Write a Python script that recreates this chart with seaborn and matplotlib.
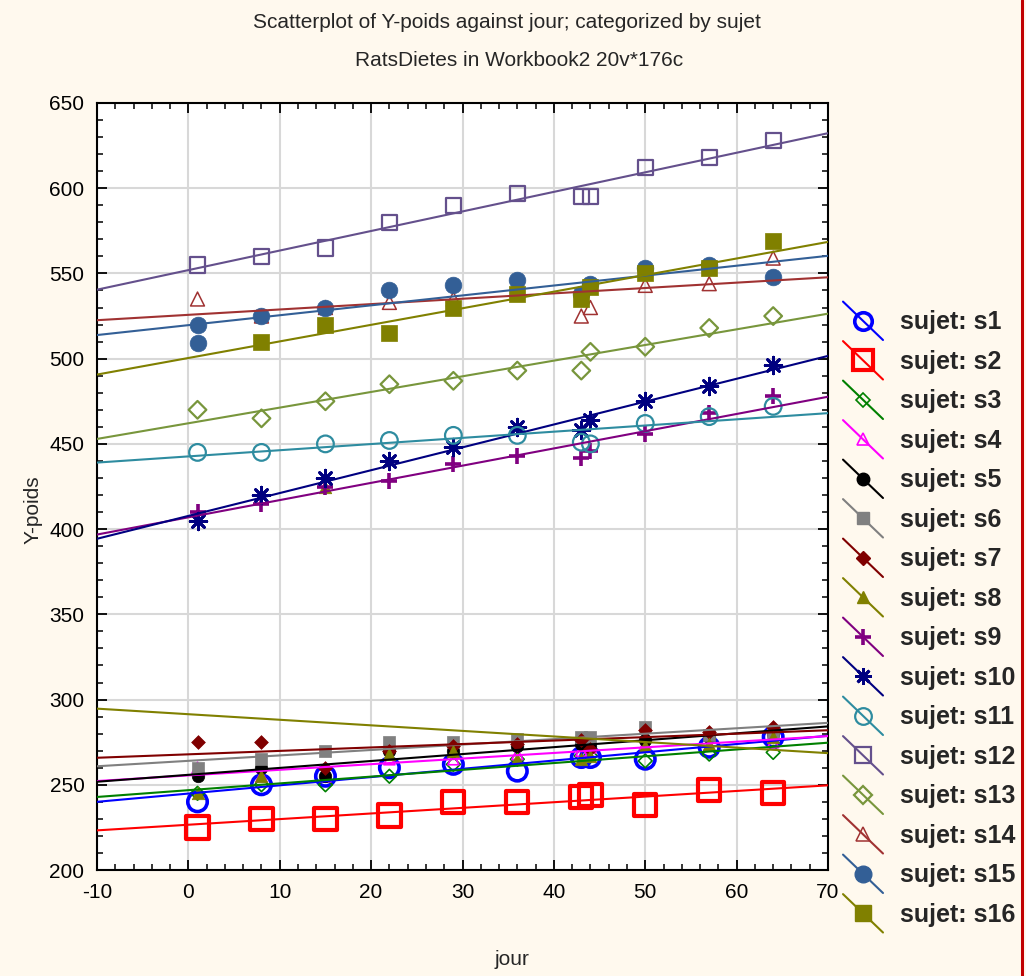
import numpy as np
import pandas as pd
import matplotlib
matplotlib.use("Agg")
import matplotlib.pyplot as plt
import seaborn as sns
from matplotlib.lines import Line2D
from matplotlib.legend_handler import HandlerLine2D
from matplotlib.ticker import MultipleLocator

# ---------------- data ----------------
jour = [1, 8, 15, 22, 29, 36, 43, 44, 50, 57, 64]
jour_s15 = [1, 1, 8, 15, 22, 29, 36, 43, 44, 50, 57, 64]
jour_s16 = [8, 15, 22, 29, 36, 43, 44, 50, 57, 64]

poids_s1 = [240, 250, 255, 260, 262, 258, 266, 266, 265, 272, 278]
poids_s2 = [225, 230, 230, 232, 240, 240, 243, 244, 238, 247, 245]
poids_s3 = [245, 250, 250, 255, 262, 265, 267, 267, 264, 268, 269]
poids_s4 = [260, 255, 255, 265, 265, 268, 270, 272, 274, 273, 275]
poids_s5 = [255, 260, 255, 270, 270, 273, 274, 273, 276, 278, 280]
poids_s6 = [260, 265, 270, 275, 275, 277, 278, 278, 284, 279, 281]
poids_s7 = [275, 275, 260, 270, 273, 274, 276, 271, 282, 281, 284]
poids_s8 = [245, 255, 425, 268, 270, 265, 265, 267, 273, 274, 278]
poids_s9 = [410, 415, 425, 428, 438, 443, 442, 446, 456, 468, 478]
poids_s10 = [405, 420, 430, 440, 448, 460, 458, 464, 475, 484, 496]
poids_s11 = [445, 445, 450, 452, 455, 455, 451, 450, 462, 466, 472]
poids_s12 = [555, 560, 565, 580, 590, 597, 595, 595, 612, 618, 628]
poids_s13 = [470, 465, 475, 485, 487, 493, 493, 504, 507, 518, 525]
poids_s14 = [535, 525, 530, 533, 535, 540, 525, 530, 543, 544, 559]
poids_s15 = [520, 509, 525, 530, 540, 543, 546, 538, 544, 553, 555, 548]
poids_s16 = [510, 520, 515, 530, 538, 535, 542, 550, 553, 569]

sujets = [f"s{i}" for i in range(1, 17)]

series = {
    "s1": (jour, poids_s1), "s2": (jour, poids_s2), "s3": (jour, poids_s3),
    "s4": (jour, poids_s4), "s5": (jour, poids_s5), "s6": (jour, poids_s6),
    "s7": (jour, poids_s7), "s8": (jour, poids_s8), "s9": (jour, poids_s9),
    "s10": (jour, poids_s10), "s11": (jour, poids_s11), "s12": (jour, poids_s12),
    "s13": (jour, poids_s13), "s14": (jour, poids_s14), "s15": (jour_s15, poids_s15),
    "s16": (jour_s16, poids_s16),
}
rows = []
for s in sujets:
    xs, ys = series[s]
    for x, y in zip(xs, ys):
        rows.append({"jour": x, "Y-poids": y, "sujet": s})
df = pd.DataFrame(rows)

# ---------------- styles ----------------
# (color, marker, size(pt), filled, edge width)
ASTER = (8, 2, 0)
styles = {
    "s1": ("#0000ff", "o", 14, False, 2.6),
    "s2": ("#ff0000", "s", 16, False, 3.0),
    "s3": ("#008000", "D", 7, False, 1.2),
    "s4": ("#ff00ff", "^", 8, False, 1.2),
    "s5": ("#000000", "o", 9, True, 1.0),
    "s6": ("#808080", "s", 9, True, 1.0),
    "s7": ("#800000", "D", 7, True, 1.0),
    "s8": ("#808000", "^", 9, True, 1.0),
    "s9": ("#800080", "+", 12, True, 2.6),
    "s10": ("#000080", ASTER, 12, True, 2.0),
    "s11": ("#2e8ca0", "o", 12, False, 1.6),
    "s12": ("#64508c", "s", 11, False, 1.6),
    "s13": ("#78963c", "D", 9, False, 1.6),
    "s14": ("#a03232", "^", 10, False, 1.1),
    "s15": ("#335f96", "o", 12, True, 1.0),
    "s16": ("#808000", "s", 11, True, 1.0),
}

sns.set_theme(style="white")
plt.rcParams["font.family"] = ["Liberation Sans", "DejaVu Sans"]
plt.rcParams["axes.unicode_minus"] = False

W, H = 1026, 976
fig = plt.figure(figsize=(W / 100, H / 100), dpi=100)
fig.patch.set_facecolor("#fff9ee")
ax = fig.add_axes([97 / W, 1 - 870 / H, (828 - 97) / W, (870 - 103) / H])
ax.set_facecolor("white")
ax.set_xlim(-10, 70)
ax.set_ylim(200, 650)

handles = []
for s in sujets:
    c, m, ms, filled, mew = styles[s]
    sub = df[df["sujet"] == s]
    skw = dict(s=ms ** 2, alpha=1, zorder=2)
    if filled:
        skw.update(edgecolors=c, facecolors=c,
                   linewidths=mew if m in ["+", ASTER] else 0.5)
    else:
        skw.update(edgecolors=c, facecolors="none", linewidths=mew)
    sns.regplot(data=sub, x="jour", y="Y-poids", ax=ax, ci=None, truncate=False,
                marker=m, color=c, scatter_kws=skw, line_kws=dict(lw=1.5, zorder=3))
    h = Line2D([], [], color=c, marker=m, ms=ms * 0.9 if ms > 12 else ms,
               mfc=c if filled else "none", mec=c, mew=mew, lw=1.5)
    handles.append(h)

ax.set_xlim(-10, 70)
ax.set_ylim(200, 650)
ax.xaxis.set_major_locator(MultipleLocator(10))
ax.xaxis.set_minor_locator(MultipleLocator(2))
ax.yaxis.set_major_locator(MultipleLocator(50))
ax.yaxis.set_minor_locator(MultipleLocator(10))
ax.grid(True, which="major", color="#d8d8d8", lw=1.5)
ax.set_axisbelow(True)
ax.tick_params(which="both", direction="in", top=True, right=True, bottom=True, left=True,
               colors="black", labelsize=15)
ax.tick_params(axis="x", which="major", pad=9)
ax.tick_params(axis="y", which="major", pad=9)
ax.tick_params(which="major", length=7, width=1.3)
ax.tick_params(which="minor", length=4, width=1.1)
for sp in ax.spines.values():
    sp.set_color("black")
    sp.set_linewidth(1.5)

ax.set_xlabel("jour", fontsize=15)
ax.set_ylabel("Y-poids", fontsize=15)
ax.xaxis.set_label_coords((512 - 97) / 731, (870 - 950) / 767)
ax.yaxis.set_label_coords((43 - 97) / 731, (870 - 510) / 767)

fig.text(507 / W, 1 - 22 / H, "Scatterplot of Y-poids against jour; categorized by sujet",
         ha="center", va="center", fontsize=15)
fig.text(519 / W, 1 - 60 / H, "RatsDietes in Workbook2 20v*176c",
         ha="center", va="center", fontsize=15)


class DiagHandler(HandlerLine2D):
    def create_artists(self, legend, orig_handle, xdescent, ydescent, width, height,
                       fontsize, trans):
        x0, x1 = -xdescent, width - xdescent
        yc = height / 2 - ydescent
        dy = 0.48 * width
        ln = Line2D([x0, x1], [yc + dy, yc - dy], color=orig_handle.get_color(), lw=1.5)
        mk = Line2D([(x0 + x1) / 2], [yc], ls="none", marker=orig_handle.get_marker(),
                    ms=orig_handle.get_markersize(), mfc=orig_handle.get_markerfacecolor(),
                    mec=orig_handle.get_markeredgecolor(), mew=orig_handle.get_markeredgewidth())
        ln.set_transform(trans)
        mk.set_transform(trans)
        return [ln, mk]


leg = fig.legend(handles, [f"sujet: {s}" for s in sujets],
                 loc="upper left", bbox_to_anchor=(843 / W, 1 - 308 / H),
                 frameon=False, borderpad=0, borderaxespad=0,
                 handlelength=1.6, handleheight=1.2, handletextpad=0.7, labelspacing=0.53,
                 handler_map={Line2D: DiagHandler()},
                 prop={"family": ["Liberation Sans", "DejaVu Sans"], "weight": "bold", "size": 18})

fig.add_artist(Line2D([1022 / W, 1022 / W], [0, 1], transform=fig.transFigure,
                      color="#c00000", lw=2.2))

fig.savefig("out.png", dpi=100, facecolor=fig.get_facecolor())
